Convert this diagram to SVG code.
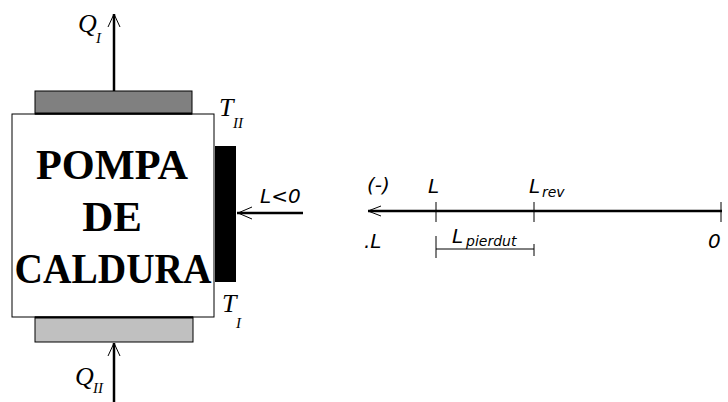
<svg xmlns="http://www.w3.org/2000/svg" width="728" height="402" viewBox="0 0 728 402">
<style>
.ln{stroke:#000;stroke-width:2.5;fill:none}
.thin{stroke:#000;stroke-width:1;fill:none}
.head{stroke:#000;stroke-width:1;fill:none}
.q{font-family:"Liberation Serif",serif;font-style:italic;font-size:26px;fill:#000}
.qs{font-family:"Liberation Serif",serif;font-style:italic;font-size:15px;fill:#000}
.big{font-family:"Liberation Serif",serif;font-weight:bold;font-size:43px;fill:#000;text-anchor:middle}
.h{font-family:"DejaVu Sans",sans-serif;font-style:italic;font-size:20px;fill:#000}
.hs{font-family:"DejaVu Sans",sans-serif;font-style:italic;font-size:14px;fill:#000}
</style>
<rect width="728" height="402" fill="#fff"/>
<g id="pump">
<rect x="12" y="114" width="202" height="203" fill="#fff" stroke="#000" stroke-width="1"/>
<text class="big" x="112" y="179" textLength="152" lengthAdjust="spacingAndGlyphs">POMPA</text>
<text class="big" x="112" y="231">DE</text>
<text class="big" x="113" y="283" textLength="197" lengthAdjust="spacingAndGlyphs">CALDURA</text>
</g>
<g id="hot-plate">
<rect x="35" y="91" width="157" height="23" fill="#808080" stroke="#000" stroke-width="1"/>
<line x1="35" y1="113.5" x2="192" y2="113.5" stroke="#000" stroke-width="2"/>
<text class="q" x="219" y="116" font-size="22">T</text>
<text class="qs" x="233" y="128">II</text>
</g>
<g id="cold-plate">
<rect x="35" y="317" width="158" height="25" fill="#c0c0c0" stroke="#000" stroke-width="1"/>
<line x1="35" y1="317.5" x2="193" y2="317.5" stroke="#000" stroke-width="2"/>
<text class="q" x="222" y="312" font-size="22">T</text>
<text class="qs" x="236" y="328">I</text>
</g>
<g id="work-bar">
<rect x="215" y="146" width="21" height="136" fill="#000"/>
</g>
<g id="labels">
<text class="q" x="78" y="32">Q</text>
<text class="qs" x="96" y="43">I</text>
<text class="q" x="75" y="385">Q</text>
<text class="qs" x="93" y="393">II</text>
<text class="h" x="260" y="203">L&lt;0</text>
</g>
<g id="connectors">
<line class="ln" x1="114" y1="91" x2="114" y2="14"/>
<path class="head" d="M108,27 L114,14 L120,27"/>
<line class="ln" x1="114" y1="402" x2="114" y2="343"/>
<path class="head" d="M108,356 L114,343 L120,356"/>
<line class="ln" x1="303" y1="213" x2="237" y2="213"/>
<path class="head" d="M252,207 L238,213 L252,219"/>
</g>
<g id="number-line">
<line class="ln" x1="368" y1="211" x2="722" y2="211"/>
<path class="head" d="M381,206 L368,211 L381,216"/>
<line class="thin" x1="436" y1="202" x2="436" y2="222"/>
<line class="thin" x1="534" y1="202" x2="534" y2="222"/>
<line class="thin" x1="721" y1="202" x2="721" y2="222"/>
<line class="thin" x1="436" y1="249" x2="534" y2="249"/>
<line class="thin" x1="436" y1="236" x2="436" y2="258"/>
<line class="thin" x1="534" y1="244" x2="534" y2="256"/>
<text class="h" x="367" y="192">(-)</text>
<text class="h" x="428" y="193">L</text>
<text class="h" x="529" y="193">L</text>
<text class="hs" x="542" y="197">rev</text>
<text class="h" x="364" y="248">.L</text>
<text class="h" x="452" y="243">L</text>
<text class="hs" x="466" y="246">pierdut</text>
<text class="h" x="708" y="248">0</text>
</g>
</svg>
